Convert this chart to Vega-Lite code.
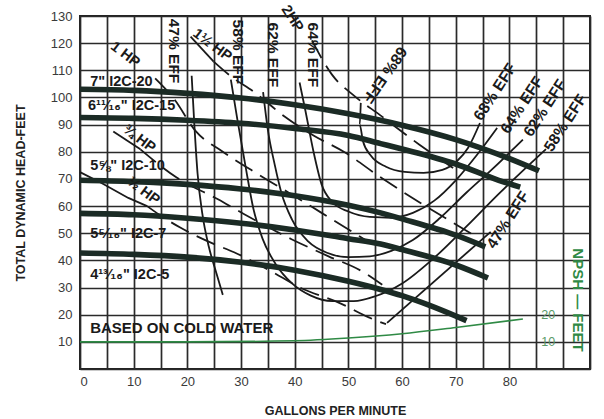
{
  "$schema": "https://vega.github.io/schema/vega-lite/v6.json",
  "width": 510,
  "height": 353,
  "autosize": {"type": "none"},
  "padding": {"left": 80, "top": 16, "right": 14, "bottom": 50},
  "background": "white",
  "config": {
    "view": {"stroke": "#222", "strokeWidth": 2},
    "font": "Liberation Sans"
  },
  "datasets": {
    "lines": [
      {"s": "h7", "k": "head", "o": 1, "x": 0, "y": 103},
      {"s": "h7", "k": "head", "o": 2, "x": 10, "y": 102.6},
      {"s": "h7", "k": "head", "o": 3, "x": 20, "y": 101.5},
      {"s": "h7", "k": "head", "o": 4, "x": 30, "y": 99.8},
      {"s": "h7", "k": "head", "o": 5, "x": 40, "y": 97.3},
      {"s": "h7", "k": "head", "o": 6, "x": 50, "y": 94},
      {"s": "h7", "k": "head", "o": 7, "x": 60, "y": 89.8},
      {"s": "h7", "k": "head", "o": 8, "x": 70, "y": 84.5},
      {"s": "h7", "k": "head", "o": 9, "x": 80, "y": 77.5},
      {"s": "h7", "k": "head", "o": 10, "x": 85.5, "y": 73},
      {"s": "h6", "k": "head", "o": 1, "x": 0, "y": 92.6},
      {"s": "h6", "k": "head", "o": 2, "x": 10, "y": 92.3},
      {"s": "h6", "k": "head", "o": 3, "x": 20, "y": 91.6},
      {"s": "h6", "k": "head", "o": 4, "x": 30, "y": 90.5},
      {"s": "h6", "k": "head", "o": 5, "x": 40, "y": 88.6},
      {"s": "h6", "k": "head", "o": 6, "x": 50, "y": 86},
      {"s": "h6", "k": "head", "o": 7, "x": 56, "y": 83},
      {"s": "h6", "k": "head", "o": 8, "x": 60, "y": 81},
      {"s": "h6", "k": "head", "o": 9, "x": 70, "y": 75.5},
      {"s": "h6", "k": "head", "o": 10, "x": 78, "y": 69.5},
      {"s": "h6", "k": "head", "o": 11, "x": 82, "y": 67},
      {"s": "h58", "k": "head", "o": 1, "x": 0, "y": 69.5},
      {"s": "h58", "k": "head", "o": 2, "x": 10, "y": 69},
      {"s": "h58", "k": "head", "o": 3, "x": 20, "y": 68},
      {"s": "h58", "k": "head", "o": 4, "x": 30, "y": 66.3},
      {"s": "h58", "k": "head", "o": 5, "x": 40, "y": 63.8},
      {"s": "h58", "k": "head", "o": 6, "x": 50, "y": 60.3},
      {"s": "h58", "k": "head", "o": 7, "x": 56, "y": 57.5},
      {"s": "h58", "k": "head", "o": 8, "x": 60, "y": 55.3},
      {"s": "h58", "k": "head", "o": 9, "x": 70, "y": 49.3},
      {"s": "h58", "k": "head", "o": 10, "x": 75.5, "y": 45},
      {"s": "h516", "k": "head", "o": 1, "x": 0, "y": 57.3},
      {"s": "h516", "k": "head", "o": 2, "x": 10, "y": 56.8},
      {"s": "h516", "k": "head", "o": 3, "x": 20, "y": 55.5},
      {"s": "h516", "k": "head", "o": 4, "x": 30, "y": 53.7},
      {"s": "h516", "k": "head", "o": 5, "x": 40, "y": 51.2},
      {"s": "h516", "k": "head", "o": 6, "x": 50, "y": 48},
      {"s": "h516", "k": "head", "o": 7, "x": 56, "y": 46},
      {"s": "h516", "k": "head", "o": 8, "x": 60, "y": 44},
      {"s": "h516", "k": "head", "o": 9, "x": 70, "y": 38.3},
      {"s": "h516", "k": "head", "o": 10, "x": 76, "y": 33.5},
      {"s": "h4", "k": "head", "o": 1, "x": 0, "y": 42.7},
      {"s": "h4", "k": "head", "o": 2, "x": 10, "y": 42.2},
      {"s": "h4", "k": "head", "o": 3, "x": 20, "y": 41.2},
      {"s": "h4", "k": "head", "o": 4, "x": 30, "y": 39.3},
      {"s": "h4", "k": "head", "o": 5, "x": 40, "y": 36.4},
      {"s": "h4", "k": "head", "o": 6, "x": 50, "y": 32.3},
      {"s": "h4", "k": "head", "o": 7, "x": 56, "y": 29.3},
      {"s": "h4", "k": "head", "o": 8, "x": 60, "y": 27},
      {"s": "h4", "k": "head", "o": 9, "x": 65, "y": 23.5},
      {"s": "h4", "k": "head", "o": 10, "x": 72, "y": 17.8},

      {"s": "e47L", "k": "eff", "o": 1, "x": 20.8, "y": 108},
      {"s": "e47L", "k": "eff", "o": 2, "x": 21.3, "y": 90},
      {"s": "e47L", "k": "eff", "o": 3, "x": 21.9, "y": 72},
      {"s": "e47L", "k": "eff", "o": 4, "x": 22.8, "y": 57},
      {"s": "e47L", "k": "eff", "o": 5, "x": 24, "y": 45},
      {"s": "e47L", "k": "eff", "o": 6, "x": 25.3, "y": 36},
      {"s": "e47L", "k": "eff", "o": 7, "x": 26.6, "y": 27.3},
      {"s": "e47R", "k": "eff", "o": 1, "x": 57.2, "y": 17},
      {"s": "e47R", "k": "eff", "o": 2, "x": 76.5, "y": 50.5},
      {"s": "e58", "k": "eff", "o": 1, "x": 28.1, "y": 106.6},
      {"s": "e58", "k": "eff", "o": 2, "x": 29.3, "y": 92},
      {"s": "e58", "k": "eff", "o": 3, "x": 30.8, "y": 75},
      {"s": "e58", "k": "eff", "o": 4, "x": 32.3, "y": 59},
      {"s": "e58", "k": "eff", "o": 5, "x": 34, "y": 48},
      {"s": "e58", "k": "eff", "o": 6, "x": 36.5, "y": 38.5},
      {"s": "e58", "k": "eff", "o": 7, "x": 39.5, "y": 31.5},
      {"s": "e58", "k": "eff", "o": 8, "x": 43, "y": 27},
      {"s": "e58", "k": "eff", "o": 9, "x": 47, "y": 25},
      {"s": "e58", "k": "eff", "o": 10, "x": 51, "y": 25},
      {"s": "e58", "k": "eff", "o": 11, "x": 55, "y": 26.8},
      {"s": "e58", "k": "eff", "o": 12, "x": 60, "y": 31.5},
      {"s": "e58", "k": "eff", "o": 13, "x": 66, "y": 41},
      {"s": "e58", "k": "eff", "o": 14, "x": 72, "y": 52.5},
      {"s": "e58", "k": "eff", "o": 15, "x": 78, "y": 64.5},
      {"s": "e58", "k": "eff", "o": 16, "x": 83, "y": 74},
      {"s": "e58", "k": "eff", "o": 17, "x": 86.8, "y": 81},
      {"s": "e62", "k": "eff", "o": 1, "x": 34.1, "y": 102},
      {"s": "e62", "k": "eff", "o": 2, "x": 35, "y": 88},
      {"s": "e62", "k": "eff", "o": 3, "x": 36.3, "y": 75},
      {"s": "e62", "k": "eff", "o": 4, "x": 37.5, "y": 65},
      {"s": "e62", "k": "eff", "o": 5, "x": 39.5, "y": 55},
      {"s": "e62", "k": "eff", "o": 6, "x": 42.5, "y": 47},
      {"s": "e62", "k": "eff", "o": 7, "x": 46, "y": 42.8},
      {"s": "e62", "k": "eff", "o": 8, "x": 50, "y": 41.2},
      {"s": "e62", "k": "eff", "o": 9, "x": 54, "y": 41.5},
      {"s": "e62", "k": "eff", "o": 10, "x": 58, "y": 43.5},
      {"s": "e62", "k": "eff", "o": 11, "x": 62, "y": 47.5},
      {"s": "e62", "k": "eff", "o": 12, "x": 67, "y": 55.5},
      {"s": "e62", "k": "eff", "o": 13, "x": 72, "y": 65},
      {"s": "e62", "k": "eff", "o": 14, "x": 77, "y": 74},
      {"s": "e62", "k": "eff", "o": 15, "x": 82.5, "y": 84.5},
      {"s": "e64", "k": "eff", "o": 1, "x": 40.9, "y": 105.5},
      {"s": "e64", "k": "eff", "o": 2, "x": 42, "y": 95},
      {"s": "e64", "k": "eff", "o": 3, "x": 43.5, "y": 80},
      {"s": "e64", "k": "eff", "o": 4, "x": 45, "y": 68},
      {"s": "e64", "k": "eff", "o": 5, "x": 47, "y": 61.5},
      {"s": "e64", "k": "eff", "o": 6, "x": 50, "y": 58},
      {"s": "e64", "k": "eff", "o": 7, "x": 54, "y": 56},
      {"s": "e64", "k": "eff", "o": 8, "x": 58, "y": 55.7},
      {"s": "e64", "k": "eff", "o": 9, "x": 62, "y": 57.5},
      {"s": "e64", "k": "eff", "o": 10, "x": 66, "y": 62},
      {"s": "e64", "k": "eff", "o": 11, "x": 70, "y": 69.5},
      {"s": "e64", "k": "eff", "o": 12, "x": 74, "y": 79},
      {"s": "e64", "k": "eff", "o": 13, "x": 77.7, "y": 88.8},
      {"s": "e68", "k": "eff", "o": 1, "x": 52.3, "y": 98},
      {"s": "e68", "k": "eff", "o": 2, "x": 52.1, "y": 90},
      {"s": "e68", "k": "eff", "o": 3, "x": 52.7, "y": 84},
      {"s": "e68", "k": "eff", "o": 4, "x": 54.2, "y": 78.5},
      {"s": "e68", "k": "eff", "o": 5, "x": 57, "y": 74.5},
      {"s": "e68", "k": "eff", "o": 6, "x": 60.5, "y": 72.6},
      {"s": "e68", "k": "eff", "o": 7, "x": 64, "y": 72.2},
      {"s": "e68", "k": "eff", "o": 8, "x": 67.5, "y": 73.3},
      {"s": "e68", "k": "eff", "o": 9, "x": 70.2, "y": 76.5},
      {"s": "e68", "k": "eff", "o": 10, "x": 72.3, "y": 81.5},
      {"s": "e68", "k": "eff", "o": 11, "x": 74.5, "y": 90.6},

      {"s": "p1", "k": "hp", "o": 1, "x": 14, "y": 107},
      {"s": "p1", "k": "hp", "o": 2, "x": 17.5, "y": 99.5},
      {"s": "p1", "k": "hp", "o": 3, "x": 21.6, "y": 87.5},
      {"s": "p1", "k": "hp", "o": 4, "x": 26.6, "y": 80},
      {"s": "p1", "k": "hp", "o": 5, "x": 33.2, "y": 71.7},
      {"s": "p1", "k": "hp", "o": 6, "x": 39.4, "y": 64.3},
      {"s": "p1", "k": "hp", "o": 7, "x": 45, "y": 57.5},
      {"s": "p1", "k": "hp", "o": 8, "x": 50.6, "y": 50.7},
      {"s": "p1", "k": "hp", "o": 9, "x": 54, "y": 46.5},
      {"s": "p34s", "k": "hps", "o": 1, "x": 6.2, "y": 87.5},
      {"s": "p34s", "k": "hps", "o": 2, "x": 11.25, "y": 80.9},
      {"s": "p34", "k": "hp", "o": 1, "x": 11.25, "y": 80.9},
      {"s": "p34", "k": "hp", "o": 2, "x": 18, "y": 70.5},
      {"s": "p34", "k": "hp", "o": 3, "x": 25.7, "y": 62.5},
      {"s": "p34", "k": "hp", "o": 4, "x": 30.6, "y": 57},
      {"s": "p34", "k": "hp", "o": 5, "x": 39.4, "y": 47.8},
      {"s": "p34", "k": "hp", "o": 6, "x": 46.3, "y": 41.5},
      {"s": "p34", "k": "hp", "o": 7, "x": 52.5, "y": 36},
      {"s": "p34", "k": "hp", "o": 8, "x": 56.3, "y": 31},
      {"s": "p12s", "k": "hps", "o": 1, "x": 0, "y": 72.5},
      {"s": "p12s", "k": "hps", "o": 2, "x": 4, "y": 68.5},
      {"s": "p12s", "k": "hps", "o": 3, "x": 9, "y": 63},
      {"s": "p12s", "k": "hps", "o": 4, "x": 12.5, "y": 60},
      {"s": "p12", "k": "hp", "o": 1, "x": 12.5, "y": 60},
      {"s": "p12", "k": "hp", "o": 2, "x": 15, "y": 56.5},
      {"s": "p12", "k": "hp", "o": 3, "x": 18.75, "y": 52},
      {"s": "p12", "k": "hp", "o": 4, "x": 25, "y": 46},
      {"s": "p12", "k": "hp", "o": 5, "x": 28.7, "y": 43},
      {"s": "p12", "k": "hp", "o": 6, "x": 35.6, "y": 36},
      {"s": "p12", "k": "hp", "o": 7, "x": 41, "y": 30},
      {"s": "p12", "k": "hp", "o": 8, "x": 48.7, "y": 24},
      {"s": "p12", "k": "hp", "o": 9, "x": 53.8, "y": 19},
      {"s": "p12", "k": "hp", "o": 10, "x": 57, "y": 16.5},
      {"s": "p15s", "k": "hps", "o": 1, "x": 20.6, "y": 122.4},
      {"s": "p15s", "k": "hps", "o": 2, "x": 24.9, "y": 113.2},
      {"s": "p15", "k": "hp", "o": 1, "x": 24.9, "y": 113.2},
      {"s": "p15", "k": "hp", "o": 2, "x": 28.3, "y": 107.5},
      {"s": "p15", "k": "hp", "o": 3, "x": 32.3, "y": 102.2},
      {"s": "p15", "k": "hp", "o": 4, "x": 38.1, "y": 93},
      {"s": "p15", "k": "hp", "o": 5, "x": 43.5, "y": 86},
      {"s": "p15", "k": "hp", "o": 6, "x": 49.3, "y": 79.8},
      {"s": "p15", "k": "hp", "o": 7, "x": 55.7, "y": 71},
      {"s": "p15", "k": "hp", "o": 8, "x": 63.2, "y": 61.4},
      {"s": "p15", "k": "hp", "o": 9, "x": 69.4, "y": 54},
      {"s": "p15", "k": "hp", "o": 10, "x": 73.1, "y": 49.6},
      {"s": "p2", "k": "hp", "o": 1, "x": 43.2, "y": 121},
      {"s": "p2", "k": "hp", "o": 2, "x": 46.9, "y": 108.5},
      {"s": "p2", "k": "hp", "o": 3, "x": 51.2, "y": 100.4},
      {"s": "p2", "k": "hp", "o": 4, "x": 55.9, "y": 93.5},
      {"s": "p2", "k": "hp", "o": 5, "x": 63.3, "y": 82.5},
      {"s": "p2", "k": "hp", "o": 6, "x": 69.5, "y": 74},

      {"s": "npsh", "k": "npsh", "o": 1, "x": 0, "y": 10},
      {"s": "npsh", "k": "npsh", "o": 2, "x": 20, "y": 10},
      {"s": "npsh", "k": "npsh", "o": 3, "x": 40, "y": 10.4},
      {"s": "npsh", "k": "npsh", "o": 4, "x": 50, "y": 11.4},
      {"s": "npsh", "k": "npsh", "o": 5, "x": 60, "y": 13},
      {"s": "npsh", "k": "npsh", "o": 6, "x": 70, "y": 15.3},
      {"s": "npsh", "k": "npsh", "o": 7, "x": 82.5, "y": 18.4}
    ],
    "labels": [
      {"g": "curve", "t": "7\" I2C-20", "x": 1.9, "y": 105.7},
      {"g": "curve", "t": "6¹¹⁄₁₆\" I2C-15", "x": 1.5, "y": 96.7},
      {"g": "curve", "t": "5⅝\" I2C-10", "x": 1.9, "y": 74.6},
      {"g": "curve", "t": "5⁵⁄₁₆\" I2C-7", "x": 1.9, "y": 49.7},
      {"g": "curve", "t": "4¹³⁄₁₆\" I2C-5", "x": 1.9, "y": 34.8},
      {"g": "note", "t": "BASED ON COLD WATER", "x": 1.9, "y": 15.1},
      {"g": "effL", "t": "47% EFF", "x": 17.6, "y": 117.1},
      {"g": "effL", "t": "58% EFF", "x": 29.4, "y": 116.8},
      {"g": "effL", "t": "62% EFF", "x": 36, "y": 115.7},
      {"g": "effL", "t": "64% EFF", "x": 43.4, "y": 115.7},
      {"g": "eff68", "t": "68% EFF", "x": 56.8, "y": 108.3},
      {"g": "effR", "t": "68% EFF", "x": 77.3, "y": 102},
      {"g": "effR", "t": "64% EFF", "x": 82.3, "y": 97.2},
      {"g": "effR", "t": "62% EFF", "x": 86.6, "y": 96.1},
      {"g": "effR", "t": "58% EFF", "x": 90.4, "y": 90.6},
      {"g": "effR", "t": "47% EFF", "x": 79.7, "y": 54.9},
      {"g": "hp", "t": "1 HP", "x": 8.4, "y": 115.7},
      {"g": "hp", "t": "1½ HP", "x": 24.6, "y": 119.2},
      {"g": "hp", "t": "¾ HP", "x": 11, "y": 84.7},
      {"g": "hp", "t": "½ HP", "x": 11.8, "y": 65.5},
      {"g": "hp2", "t": "2HP", "x": 39.5, "y": 129},
      {"g": "npshT", "t": "NPSH — FEET", "x": 92.8, "y": 25.4},
      {"g": "npshV", "t": "20", "x": 87.2, "y": 19.9},
      {"g": "npshV", "t": "10", "x": 87.2, "y": 9.8}
    ]
  },
  "encoding": {
    "x": {
      "field": "x", "type": "quantitative",
      "scale": {"domain": [0, 95], "nice": false, "zero": false},
      "axis": {
        "values": [0, 5, 10, 15, 20, 25, 30, 35, 40, 45, 50, 55, 60, 65, 70, 75, 80, 85, 90, 95],
        "labelExpr": "datum.value % 10 == 0 && datum.value <= 80 ? datum.label : ''",
        "ticks": false, "domain": false, "grid": true,
        "gridColor": "#2a2a2a", "gridWidth": 1.7, "gridOpacity": 1,
        "labelFontSize": 13, "labelColor": "#3a3a3a", "labelPadding": 6, "labelFont": "Liberation Sans",
        "title": "GALLONS PER MINUTE", "titleFontSize": 12.5, "titleFontWeight": "bold",
        "titleColor": "#222", "titlePadding": 16, "titleFont": "Liberation Sans"
      }
    },
    "y": {
      "field": "y", "type": "quantitative",
      "scale": {"domain": [0, 130], "nice": false, "zero": false},
      "axis": {
        "values": [0, 10, 20, 30, 40, 50, 60, 70, 80, 90, 100, 110, 120, 130],
        "labelExpr": "datum.value == 0 ? '' : datum.label",
        "ticks": false, "domain": false, "grid": true,
        "gridColor": "#2a2a2a", "gridWidth": 1.7, "gridOpacity": 1,
        "labelFontSize": 13, "labelColor": "#3a3a3a", "labelPadding": 8, "labelFont": "Liberation Sans",
        "title": "TOTAL DYNAMIC HEAD-FEET", "titleFontSize": 12.5, "titleFontWeight": "bold",
        "titleColor": "#222", "titlePadding": 23, "titleFont": "Liberation Sans"
      }
    }
  },
  "layer": [
    {
      "data": {"name": "lines"},
      "transform": [{"filter": "datum.k == 'eff'"}],
      "mark": {"type": "line", "color": "#1a1a1a", "strokeWidth": 1.8, "interpolate": "monotone"},
      "encoding": {"detail": {"field": "s"}, "order": {"field": "o"}}
    },
    {
      "data": {"name": "lines"},
      "transform": [{"filter": "datum.k == 'hp'"}],
      "mark": {"type": "line", "color": "#1a1a1a", "strokeWidth": 1.8, "strokeDash": [20, 9], "interpolate": "monotone"},
      "encoding": {"detail": {"field": "s"}, "order": {"field": "o"}}
    },
    {
      "data": {"name": "lines"},
      "transform": [{"filter": "datum.k == 'hps'"}],
      "mark": {"type": "line", "color": "#1a1a1a", "strokeWidth": 1.8},
      "encoding": {"detail": {"field": "s"}, "order": {"field": "o"}}
    },
    {
      "data": {"name": "lines"},
      "transform": [{"filter": "datum.k == 'head'"}],
      "mark": {"type": "line", "color": "#1b2b25", "strokeWidth": 5.6, "strokeCap": "butt", "interpolate": "monotone"},
      "encoding": {"detail": {"field": "s"}, "order": {"field": "o"}}
    },
    {
      "data": {"name": "lines"},
      "transform": [{"filter": "datum.k == 'npsh'"}],
      "mark": {"type": "line", "color": "#2f8a45", "strokeWidth": 1.6, "interpolate": "monotone"},
      "encoding": {"order": {"field": "o"}}
    },
    {
      "data": {"name": "labels"},
      "transform": [{"filter": "datum.g == 'curve'"}],
      "mark": {"type": "text", "align": "left", "baseline": "middle", "fontSize": 14.5, "fontWeight": "bold", "color": "#1a1a1a", "font": "Liberation Sans"},
      "encoding": {"text": {"field": "t"}}
    },
    {
      "data": {"name": "labels"},
      "transform": [{"filter": "datum.g == 'note'"}],
      "mark": {"type": "text", "align": "left", "baseline": "middle", "fontSize": 15, "fontWeight": "bold", "color": "#1a1a1a", "font": "Liberation Sans"},
      "encoding": {"text": {"field": "t"}}
    },
    {
      "data": {"name": "labels"},
      "transform": [{"filter": "datum.g == 'effL'"}],
      "mark": {"type": "text", "align": "center", "baseline": "middle", "angle": 90, "fontSize": 15.5, "fontWeight": "bold", "color": "#1a1a1a", "font": "Liberation Sans"},
      "encoding": {"text": {"field": "t"}}
    },
    {
      "data": {"name": "labels"},
      "transform": [{"filter": "datum.g == 'eff68'"}],
      "mark": {"type": "text", "align": "center", "baseline": "middle", "angle": 125, "fontSize": 15.5, "fontWeight": "bold", "color": "#1a1a1a", "font": "Liberation Sans"},
      "encoding": {"text": {"field": "t"}}
    },
    {
      "data": {"name": "labels"},
      "transform": [{"filter": "datum.g == 'effR'"}],
      "mark": {"type": "text", "align": "center", "baseline": "middle", "angle": -57, "fontSize": 15.5, "fontWeight": "bold", "color": "#1a1a1a", "font": "Liberation Sans"},
      "encoding": {"text": {"field": "t"}}
    },
    {
      "data": {"name": "labels"},
      "transform": [{"filter": "datum.g == 'hp'"}],
      "mark": {"type": "text", "align": "center", "baseline": "middle", "angle": 37, "fontSize": 14.5, "fontWeight": "bold", "color": "#1a1a1a", "font": "Liberation Sans"},
      "encoding": {"text": {"field": "t"}}
    },
    {
      "data": {"name": "labels"},
      "transform": [{"filter": "datum.g == 'hp2'"}],
      "mark": {"type": "text", "align": "center", "baseline": "middle", "angle": 57, "fontSize": 14.5, "fontWeight": "bold", "color": "#1a1a1a", "font": "Liberation Sans"},
      "encoding": {"text": {"field": "t"}}
    },
    {
      "data": {"name": "labels"},
      "transform": [{"filter": "datum.g == 'npshT'"}],
      "mark": {"type": "text", "align": "center", "baseline": "middle", "angle": 90, "fontSize": 15, "fontWeight": "bold", "color": "#2f8a45", "font": "Liberation Sans"},
      "encoding": {"text": {"field": "t"}}
    },
    {
      "data": {"name": "labels"},
      "transform": [{"filter": "datum.g == 'npshV'"}],
      "mark": {"type": "text", "align": "center", "baseline": "middle", "fontSize": 12.5, "color": "#5a9a68", "font": "Liberation Sans"},
      "encoding": {"text": {"field": "t"}}
    }
  ]
}
